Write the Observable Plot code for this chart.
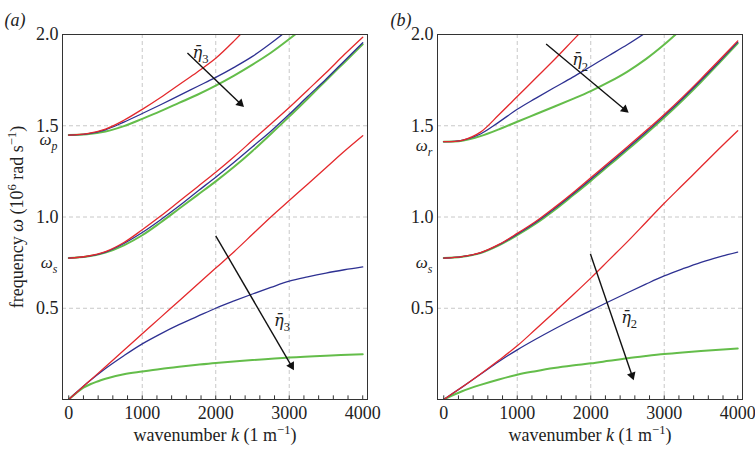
<!DOCTYPE html>
<html><head><meta charset="utf-8">
<script src="https://cdn.jsdelivr.net/npm/d3@7"></script>
<script src="https://cdn.jsdelivr.net/npm/@observablehq/plot@0.6"></script>
<style>
body{margin:0;background:#fff;}
#wrap{position:relative;width:755px;height:450px;overflow:hidden;background:#fff;}
#pa,#pb{position:absolute;top:0;}
#pa{left:0;} #pb{left:377px;}
</style></head><body>
<div id="wrap"><div id="pa"></div><div id="pb"></div></div>
<script>
// ---- wavenumber grids (1/m) ----
const kGrid = [0,250,500,750,1000,1250,1500,1750,2000,2250,2500,2750,3000,3250,3500,3750,4000];
const kFine = [0,100,200,300,400,500,750,1000,1250,1500,1750,2000,2500,3000,3500,4000];
const xTicks = [0,1000,2000,3000,4000];
const xMinorTicks = [0,200,400,600,800,1000,1200,1400,1600,1800,2000,2200,2400,2600,2800,3000,3200,3400,3600,3800,4000];
const yTicks = [0.5,1.0,1.5,2.0];

// ---- panel (a): frequency (10^6 rad/s) ----
const aUpperRed   = [1.449,1.457,1.482,1.53,1.59,1.655,1.725,1.795,1.87,1.965,2.07];
const aUpperBlue  = [1.449,1.456,1.478,1.52,1.567,1.615,1.665,1.715,1.765,1.82,1.88,1.952,2.03];
const aUpperGreen = [1.449,1.453,1.468,1.498,1.538,1.58,1.625,1.67,1.72,1.775,1.835,1.9,1.975,2.055];
const aMidRed     = [0.775,0.785,0.81,0.86,0.93,1.005,1.085,1.165,1.245,1.33,1.42,1.51,1.60,1.695,1.79,1.89,1.985];
const aMidBlue    = [0.775,0.784,0.808,0.855,0.915,0.985,1.06,1.14,1.218,1.30,1.385,1.47,1.563,1.66,1.755,1.855,1.955];
const aMidGreen   = [0.775,0.783,0.805,0.845,0.90,0.97,1.045,1.12,1.195,1.275,1.362,1.455,1.55,1.648,1.748,1.847,1.946];
const aLowRed     = [0,0.09,0.18,0.27,0.36,0.45,0.54,0.63,0.72,0.81,0.905,1.0,1.09,1.18,1.27,1.36,1.445];
const aLowBlue    = [0,0.09,0.17,0.24,0.305,0.36,0.41,0.455,0.5,0.54,0.578,0.614,0.648,0.672,0.693,0.711,0.727];
const aLowGreen   = [0,0.035,0.065,0.085,0.1,0.114,0.138,0.153,0.167,0.179,0.19,0.2,0.216,0.23,0.24,0.248]; // on kFine
const aOmegaLabels = ["*ω*_{~p}","*ω*_{~s}"];
const aOmegaValues = [1.449,0.775];
const aArrowStart = [[1615,1.899],[2000,0.897]];
const aArrowEnd   = [[2385,1.602],[3065,0.16]];
const aEtaPos     = [[1683,1.905],[2793,0.434]];
const aEtaText    = "!η\u0304!_{3}";

// ---- panel (b) ----
const bUpperRed   = [1.413,1.42,1.465,1.56,1.66,1.76,1.86,1.965,2.07];
const bUpperBlue  = [1.413,1.42,1.455,1.52,1.59,1.65,1.708,1.765,1.825,1.885,1.945,2.01];
const bUpperGreen = [1.413,1.418,1.443,1.48,1.522,1.563,1.604,1.646,1.69,1.74,1.797,1.865,1.945,2.035];
const bMidRed     = [0.775,0.783,0.805,0.85,0.91,0.975,1.05,1.13,1.215,1.30,1.385,1.472,1.562,1.657,1.757,1.86,1.965];
const bMidBlue    = [0.775,0.783,0.804,0.848,0.906,0.97,1.044,1.124,1.207,1.292,1.377,1.464,1.554,1.649,1.749,1.852,1.958];
const bMidGreen   = [0.775,0.782,0.802,0.844,0.9,0.963,1.036,1.116,1.198,1.283,1.368,1.455,1.545,1.64,1.74,1.845,1.952];
const bLowRed     = [0,0.068,0.14,0.215,0.294,0.385,0.477,0.57,0.665,0.765,0.865,0.97,1.075,1.175,1.275,1.375,1.473];
const bLowBlue    = [0,0.068,0.138,0.208,0.272,0.33,0.385,0.437,0.487,0.537,0.585,0.632,0.677,0.716,0.752,0.782,0.808];
const bLowGreen   = [0,0.045,0.08,0.11,0.136,0.155,0.172,0.186,0.198,0.212,0.226,0.238,0.249,0.258,0.266,0.273,0.28];
const bOmegaLabels = ["*ω*_{~r}","*ω*_{~s}"];
const bOmegaValues = [1.413,0.775];
const bArrowStart = [[1393,1.948],[1996,0.797]];
const bArrowEnd   = [[2517,1.571],[2585,0.105]];
const bEtaPos     = [[1747,1.863],[2414,0.451]];
const bEtaText    = "!η\u0304!_{2}";

const RED = "#e4292c", BLUE = "#2e3192", GREEN = "#64bd4a";
const FONT = "'Liberation Serif', 'Times New Roman', serif";
const XDOM = [-85,4065], YDOM = [0,2];
const MT = 34, MB = 51, H = 450;

function series(id, ks, vs){ return vs.map((v,i)=>({id, k: ks[i], v})); }

function panel(cfg){
  const red = [...series("u",kGrid,cfg.upperRed), ...series("m",kGrid,cfg.midRed), ...series("l",kGrid,cfg.lowRed)];
  const blue = [...series("u",kGrid,cfg.upperBlue), ...series("m",kGrid,cfg.midBlue), ...series("l",kGrid,cfg.lowBlue)];
  const green = [...series("u",kGrid,cfg.upperGreen), ...series("m",kGrid,cfg.midGreen), ...series("l",cfg.lowGreenK,cfg.lowGreen)];
  // pixel-per-unit factors (for orienting filled arrow heads)
  const xs = (cfg.width - cfg.ml - cfg.mr) / (XDOM[1]-XDOM[0]);
  const ys = (H - MT - MB) / (YDOM[1]-YDOM[0]);
  const heads = [];
  const shafts = cfg.arrowStart.map((s,i)=>{
    const e = cfg.arrowEnd[i];
    const px = (e[0]-s[0])*xs, py = -(e[1]-s[1])*ys, L = Math.hypot(px,py);
    const ux = px/L, uy = py/L, back = 5.2;
    heads.push({k: e[0] - ux*back/xs, v: e[1] + uy*back/ys, a: Math.atan2(ux, -uy)*180/Math.PI});
    return {x1:s[0], y1:s[1], x2:e[0] - ux*6/xs, y2:e[1] + uy*6/ys};
  });
  const etas = cfg.etaPos.map(p=>({k:p[0], v:p[1], t:cfg.etaText}));
  const omegas = cfg.omegaValues.map((v,i)=>({v, t:cfg.omegaLabels[i]}));
  const marks = [
    Plot.gridX([1000,2000,3000], {stroke:"#c8c8c8", strokeOpacity:1, strokeDasharray:"4,3"}),
    Plot.gridY([0.5,1.0,1.5], {stroke:"#c8c8c8", strokeOpacity:1, strokeDasharray:"4,3"}),
    Plot.line(green, {x:"k", y:"v", z:"id", stroke:GREEN, strokeWidth:2, curve:"catmull-rom", clip:true}),
    Plot.line(blue, {x:"k", y:"v", z:"id", stroke:BLUE, strokeWidth:1.3, curve:"catmull-rom", clip:true}),
    Plot.line(red, {x:"k", y:"v", z:"id", stroke:RED, strokeWidth:1.3, curve:"catmull-rom", clip:true}),
    Plot.link(shafts, {x1:"x1", y1:"y1", x2:"x2", y2:"y2", stroke:"#111", strokeWidth:1.4}),
    Plot.dot(heads, {x:"k", y:"v", rotate:"a", symbol:"triangle", r:3.3, fill:"#111", stroke:"none"}),
    Plot.text(etas, {x:"k", y:"v", text:"t", textAnchor:"start", fill:"#222"}),
    Plot.ruleX(xMinorTicks, {y1:0, y2:0.02, stroke:"#333"}),
    Plot.frame({stroke:"#333", strokeWidth:1}),
    Plot.axisX({ticks:xTicks, tickSize:0, tickPadding:7, tickFormat:d=>String(d), label:null, fill:"#222"}),
    Plot.axisY({ticks:yTicks, tickSize:0, tickPadding:4, tickFormat:d=>d.toFixed(1), label:null, fill:"#222"}),
    Plot.text(omegas, {y:"v", text:"t", frameAnchor:"left", textAnchor:"end", dx:-5, dy:4, fontSize:17, fill:"#222"}),
    Plot.text([cfg.xTitle], {frameAnchor:"bottom", textAnchor:"middle", dy:41, text:d=>d, fill:"#222"}),
    Plot.text([cfg.tag], {frameAnchor:"top-left", textAnchor:"start", dx:cfg.tagDx, dy:-21, text:d=>d, fill:"#222"})
  ];
  if (cfg.yTitle) marks.push(Plot.text([cfg.yTitle], {frameAnchor:"left", textAnchor:"middle", rotate:-90, dx:-45, text:d=>d, fill:"#222"}));
  return Plot.plot({
    width: cfg.width, height: H,
    marginLeft: cfg.ml, marginRight: cfg.mr, marginTop: MT, marginBottom: MB,
    x: {domain:XDOM},
    y: {domain:YDOM},
    style: {fontFamily: FONT, fontSize: "18px", background:"transparent", overflow:"visible"},
    marks
  });
}

// tiny markup: *italic*, !italic eta with bar (DejaVu for the combining mark)!, _{sub} (_{~x} italic sub), ^{sup}
function rich(svg){
  const re = /\*([^*]+)\*|!([^!]+)!|_\{([^}]+)\}|\^\{([^}]+)\}/g;
  d3.select(svg).selectAll("text").each(function(){
    const t = this.textContent;
    if (!/\*|!|_\{|\^\{/.test(t)) return;
    const fs = parseFloat(getComputedStyle(this).fontSize) || 18;
    const el = d3.select(this); el.text(null);
    let last = 0, shift = 0, m;
    const add = (s, opts={}) => {
      const ts = el.append("tspan").text(s);
      let dy = (opts.dy || 0) - shift;
      if (dy) ts.attr("dy", dy);
      shift = opts.dy || 0;
      if (opts.italic) ts.attr("font-style","italic");
      if (opts.dejavu) ts.attr("font-family","DejaVu Serif").attr("font-size", fs*0.9);
      if (opts.small) ts.attr("font-size", fs*0.7);
    };
    re.lastIndex = 0;
    while ((m = re.exec(t))){
      if (m.index > last) add(t.slice(last, m.index));
      if (m[1]) add(m[1], {italic:true});
      else if (m[2]) add(m[2], {italic:true, dejavu:true});
      else if (m[3]) { let s=m[3], it=false; if (s[0]==="~"){it=true;s=s.slice(1);} add(s,{dy:fs*0.3, small:true, italic:it}); }
      else if (m[4]) add(m[4], {dy:-fs*0.38, small:true});
      last = re.lastIndex;
    }
    if (last < t.length) add(t.slice(last));
  });
}

const svgA = panel({
  width:377, ml:62, mr:10, tagDx:-58, tag:"*(a)*",
  upperRed:aUpperRed, upperBlue:aUpperBlue, upperGreen:aUpperGreen,
  midRed:aMidRed, midBlue:aMidBlue, midGreen:aMidGreen,
  lowRed:aLowRed, lowBlue:aLowBlue, lowGreen:aLowGreen, lowGreenK:kFine,
  omegaLabels:aOmegaLabels, omegaValues:aOmegaValues,
  arrowStart:aArrowStart, arrowEnd:aArrowEnd, etaPos:aEtaPos, etaText:aEtaText,
  xTitle:"wavenumber *k* (1 m^{−1})",
  yTitle:"frequency *ω* (10^{6} rad s^{−1})"
});
const svgB = panel({
  width:378, ml:60, mr:13, tagDx:-47, tag:"*(b)*",
  upperRed:bUpperRed, upperBlue:bUpperBlue, upperGreen:bUpperGreen,
  midRed:bMidRed, midBlue:bMidBlue, midGreen:bMidGreen,
  lowRed:bLowRed, lowBlue:bLowBlue, lowGreen:bLowGreen, lowGreenK:kGrid,
  omegaLabels:bOmegaLabels, omegaValues:bOmegaValues,
  arrowStart:bArrowStart, arrowEnd:bArrowEnd, etaPos:bEtaPos, etaText:bEtaText,
  xTitle:"wavenumber *k* (1 m^{−1})"
});
document.getElementById("pa").appendChild(svgA);
document.getElementById("pb").appendChild(svgB);
rich(svgA); rich(svgB);
</script>
</body></html>
